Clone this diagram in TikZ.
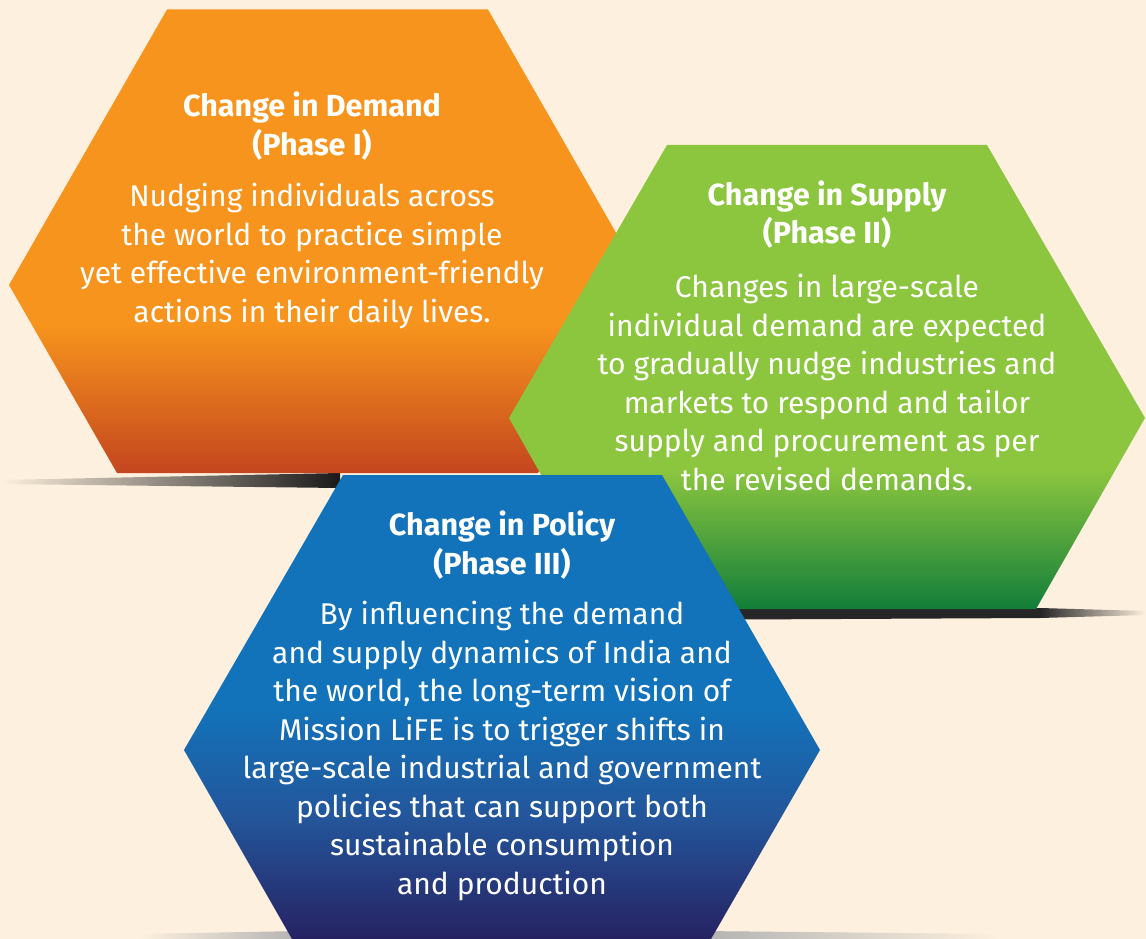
\documentclass[tikz,border=0pt]{standalone}
\usepackage{fontspec}
\setmainfont{Fira Sans}
\usetikzlibrary{shapes, backgrounds, positioning}

\definecolor{paper}{HTML}{FDF0DE}
\definecolor{demandtop}{HTML}{F7941D}
\definecolor{demandbot}{HTML}{C4461F}
\definecolor{supplytop}{HTML}{8CC63F}
\definecolor{supplybot}{HTML}{127E3A}
\definecolor{policytop}{HTML}{1273BA}
\definecolor{policymid}{HTML}{24559A}
\definecolor{policybot}{HTML}{262262}

\pgfdeclareverticalshading{demandfade}{100bp}{color(0bp)=(demandbot); color(25bp)=(demandbot); color(41bp)=(demandtop); color(100bp)=(demandtop)}
\pgfdeclareverticalshading{supplyfade}{100bp}{color(0bp)=(supplybot); color(25bp)=(supplybot); color(40bp)=(supplytop); color(100bp)=(supplytop)}
\pgfdeclareverticalshading{policyfade}{100bp}{color(0bp)=(policybot); color(25bp)=(policybot); color(38bp)=(policymid); color(50bp)=(policytop); color(100bp)=(policytop)}

\tikzset{
  phasetitle/.style={text=white, align=center, font=\bfseries\fontsize{30.5}{38.5}\selectfont},
  phasetext/.style={text=white, align=center, font=\fontsize{30}{38.5}\selectfont},
}

\begin{document}
\begin{tikzpicture}[x=1pt, y=-1pt]
\fill[paper] (0,0) rectangle (1146,939);
\useasboundingbox (0,0) rectangle (1146,939);
% shadows
\shade[left color=paper, right color=black!90] (0,480) -- (340,473) -- (340,488) -- (0,484) -- cycle;
\fill[black!85] (640,608) -- (1040,608) -- (1040,618) -- (640,620) -- cycle;
\shade[left color=black!85, right color=paper] (1040,608) -- (1146,611) -- (1146,615) -- (1040,618) -- cycle;
\shade[left color=paper, right color=black!30] (140,934) -- (300,931) -- (300,939) -- (140,939) -- cycle;
\shade[left color=black!30, right color=paper] (700,931) -- (1000,934) -- (1000,939) -- (700,939) -- cycle;
%
% phase I
\shade[shading=demandfade] (167,9.5) -- (488,9.5) -- (646,285) -- (538,473) -- (117,473) -- (9,285) -- cycle;
\node[phasetitle] (demandtitle) at (312,126) {Change in Demand\\(Phase I)};
\node[phasetext] (demandtext) at (312,256) {Nudging individuals across\\the world to practice simple\\yet effective environment-friendly\\actions in their daily lives.};
%
% phase II
\shade[shading=supplyfade] (667,145) -- (987,145) -- (1145,418) -- (1036,609) -- (617,609) -- (509,418) -- cycle;
\node[phasetitle] (supplytitle) at (827,214.5) {Change in Supply\\(Phase II)};
\node[phasetext] (supplytext) at (827,382.5) {Changes in large-scale\\individual demand are expected\\to gradually nudge industries and\\markets to respond and tailor\\supply and procurement as per\\the revised demands.};
%
% phase III
\shade[shading=policyfade] (343,475) -- (662,475) -- (820,750) -- (711,939) -- (292,939) -- (184,750) -- cycle;
\node[phasetitle] (policytitle) at (502,545) {Change in Policy\\(Phase III)};
\node[phasetext] (policytext) at (502,751) {By influencing the demand\\and supply dynamics of India and\\the world, the long-term vision of\\Mission LiFE is to trigger shifts in\\large-scale industrial and government\\policies that can support both\\sustainable consumption\\and production};
\end{tikzpicture}
\end{document}
